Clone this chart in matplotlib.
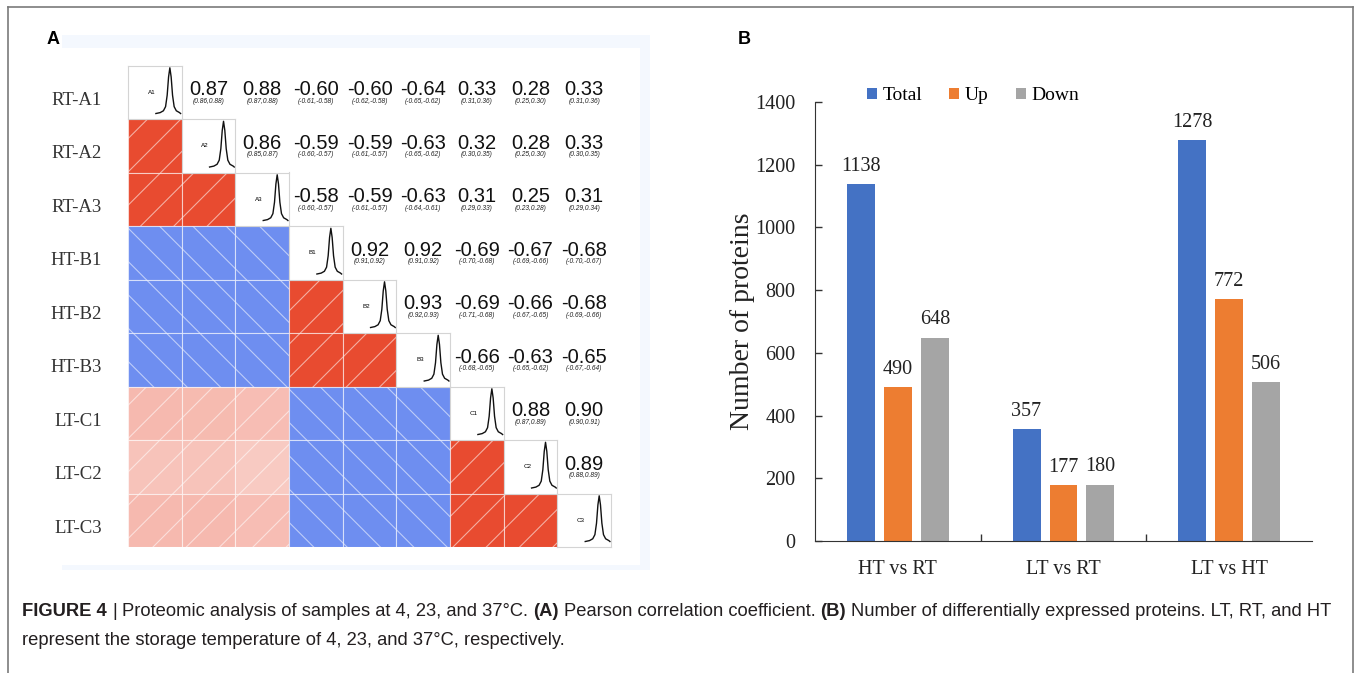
import numpy as np
import matplotlib
matplotlib.use("Agg")
import matplotlib.pyplot as plt
from matplotlib.patches import Rectangle
from matplotlib.colors import LinearSegmentedColormap, TwoSlopeNorm
from matplotlib.transforms import ScaledTranslation

# ---- data: panel A (Pearson correlation between samples) ----
samples = ["RT-A1", "RT-A2", "RT-A3", "HT-B1", "HT-B2", "HT-B3", "LT-C1", "LT-C2", "LT-C3"]
short_names = ["A1", "A2", "A3", "B1", "B2", "B3", "C1", "C2", "C3"]
# upper triangle, row i holds r for columns i+1 .. 8
r_upper = [
    [0.87, 0.88, -0.60, -0.60, -0.64, 0.33, 0.28, 0.33],
    [0.86, -0.59, -0.59, -0.63, 0.32, 0.28, 0.33],
    [-0.58, -0.59, -0.63, 0.31, 0.25, 0.31],
    [0.92, 0.92, -0.69, -0.67, -0.68],
    [0.93, -0.69, -0.66, -0.68],
    [-0.66, -0.63, -0.65],
    [0.88, 0.90],
    [0.89],
]
ci_low = [
    [0.86, 0.87, -0.61, -0.62, -0.65, 0.31, 0.25, 0.31],
    [0.85, -0.60, -0.61, -0.65, 0.30, 0.25, 0.30],
    [-0.60, -0.61, -0.64, 0.29, 0.23, 0.29],
    [0.91, 0.91, -0.70, -0.69, -0.70],
    [0.92, -0.71, -0.67, -0.69],
    [-0.68, -0.65, -0.67],
    [0.87, 0.90],
    [0.88],
]
ci_high = [
    [0.88, 0.88, -0.58, -0.58, -0.62, 0.36, 0.30, 0.36],
    [0.87, -0.57, -0.57, -0.62, 0.35, 0.30, 0.35],
    [-0.57, -0.57, -0.61, 0.33, 0.28, 0.34],
    [0.92, 0.92, -0.68, -0.66, -0.67],
    [0.93, -0.68, -0.65, -0.66],
    [-0.65, -0.62, -0.64],
    [0.89, 0.91],
    [0.89],
]
# rough shape of the density peak drawn on the diagonal
peak_x = [-1.3, -0.9, -0.6, -0.4, -0.25, -0.12, 0.0, 0.12, 0.25, 0.4, 0.6, 0.9, 1.0]
peak_h = [0.0, 0.02, 0.06, 0.15, 0.4, 0.8, 1.0, 0.8, 0.4, 0.15, 0.06, 0.02, 0.0]

# ---- data: panel B (differentially expressed proteins) ----
comparisons = ["HT vs RT", "LT vs RT", "LT vs HT"]
total = [1138, 357, 1278]
up = [490, 177, 772]
down = [648, 180, 506]

W, H = 1357, 673
fig = plt.figure(figsize=(W / 100, H / 100), dpi=100)
plt.rcParams["hatch.linewidth"] = 0.8


def fx(px):
    return px / W


def fy(py):
    return 1 - py / H


# outer frame (bottom edge is cut off in the original)
fig.add_artist(plt.Line2D([fx(8), fx(8)], [fy(7), 0], color="#7a7a7a", lw=1.2))
fig.add_artist(plt.Line2D([fx(8), fx(1353)], [fy(7), fy(7)], color="#7a7a7a", lw=1.2))
fig.add_artist(plt.Line2D([fx(1353), fx(1353)], [fy(7), 0], color="#7a7a7a", lw=1.2))

# faint panel background behind the matrix
fig.add_artist(Rectangle((fx(62), fy(570)), fx(650) - fx(62), fy(35) - fy(570),
                         facecolor="#f4f8fe", edgecolor="none", zorder=0))
fig.add_artist(Rectangle((fx(62), fy(565)), fx(640) - fx(62), fy(48) - fy(565),
                         facecolor="white", edgecolor="none", zorder=0))

fig.text(fx(47), fy(40), "A", fontsize=13, fontweight="bold", family="Liberation Sans", va="center")
fig.text(fx(738), fy(40), "B", fontsize=13, fontweight="bold", family="Liberation Sans", va="center")

# ---------------- panel A ----------------
n = len(samples)
full = np.eye(n)
for i, row in enumerate(r_upper):
    for k, v in enumerate(row):
        j = i + 1 + k
        full[i, j] = v
        full[j, i] = v

cmap = LinearSegmentedColormap.from_list("rb", ["#6e8ef0", "#ffffff", "#e84b30"])
norm = TwoSlopeNorm(vmin=-0.58, vcenter=0.0, vmax=0.85)

ax = fig.add_axes([fx(128), fy(547), (611 - 128) / W, (547 - 65.5) / H])
ax.set_xlim(0, n)
ax.set_ylim(0, n)
ax.set_facecolor("white")
for s in ax.spines.values():
    s.set_visible(False)
ax.set_xticks([])
ax.set_yticks([n - 1 - i + 0.5 for i in range(n)])
ax.set_yticklabels(samples, family="Liberation Serif", fontsize=13.5, color="#333333")
ax.tick_params(axis="y", length=0, pad=19)
shift = ScaledTranslation(0, -6 / 100, fig.dpi_scale_trans)
for lab in ax.get_yticklabels():
    lab.set_transform(lab.get_transform() + shift)

for i in range(n):
    for j in range(n):
        y0 = n - 1 - i
        if i > j:
            v = full[i, j]
            ax.add_patch(Rectangle((j, y0), 1, 1, facecolor=cmap(norm(v)),
                                   edgecolor=(1, 1, 1, 0.55), lw=0.8,
                                   hatch="/" if v > 0 else "\\"))
        elif j > i:
            k = j - i - 1
            ax.text(j + 0.5, y0 + 0.55, f"{r_upper[i][k]:.2f}", ha="center", va="center",
                    fontsize=14.5, family="Liberation Sans", color="#111111")
            ax.text(j + 0.5, y0 + 0.33, f"({ci_low[i][k]:.2f},{ci_high[i][k]:.2f})",
                    ha="center", va="center", fontsize=4.8, family="Liberation Sans",
                    style="italic", color="#222222")

for i in range(n):
    ins = ax.inset_axes([i, n - 1 - i, 1, 1], transform=ax.transData)
    ins.plot(peak_x, peak_h, color="#111111", lw=1.0)
    ins.set_xlim(-3.9, 1.1)
    ins.set_ylim(-0.12, 1.05)
    ins.set_xticks([])
    ins.set_yticks([])
    ins.set_facecolor("white")
    for s in ins.spines.values():
        s.set_color("#d4d4d4")
        s.set_linewidth(0.8)
    ins.text(0.44, 0.5, short_names[i], transform=ins.transAxes, fontsize=4.5,
             ha="center", va="center", family="Liberation Sans")

# ---------------- panel B ----------------
axb = fig.add_axes([fx(815), fy(541), (1312 - 815) / W, (541 - 102) / H])
x = np.arange(len(comparisons))
bw = 0.169
off = 0.223
series = [("Total", total, "#4472c4"), ("Up", up, "#ed7d31"), ("Down", down, "#a5a5a5")]
for k, (name, vals, col) in enumerate(series):
    bars = axb.bar(x + (k - 1) * off, vals, bw, color=col, label=name)
    axb.bar_label(bars, padding=6, fontsize=14.5, family="Liberation Serif", color="#222222")

axb.set_xlim(-0.5, 2.5)
axb.set_ylim(0, 1400)
axb.set_yticks(range(0, 1401, 200))
axb.set_xticks(x)
axb.set_xticklabels(comparisons)
axb.set_xticks([0.5, 1.5], minor=True)
axb.tick_params(axis="x", which="major", length=0, pad=14)
axb.tick_params(axis="x", which="minor", direction="in", length=5, width=1, color="#333333")
axb.tick_params(axis="y", direction="in", length=5, width=1, pad=14, color="#333333")
for lab in axb.get_xticklabels() + axb.get_yticklabels():
    lab.set_family("Liberation Serif")
    lab.set_fontsize(14.5)
    lab.set_color("#222222")
axb.spines["top"].set_visible(False)
axb.spines["right"].set_visible(False)
axb.spines["left"].set_color("#333333")
axb.spines["bottom"].set_color("#333333")
axb.set_ylabel("Number of proteins", family="Liberation Serif", fontsize=20, color="#222222", labelpad=0)
axb.legend(loc="center", bbox_to_anchor=(0.318, 1.014), ncol=3, frameon=False,
           prop={"family": "Liberation Serif", "size": 14},
           handlelength=0.5, handleheight=0.5, handletextpad=0.3, columnspacing=1.4)

# ---------------- caption ----------------
renderer = fig.canvas.get_renderer()
cap_size = 13.2


def text_width(s, bold):
    t = fig.text(0, 0, s, fontsize=cap_size, family="Liberation Sans",
                 fontweight="bold" if bold else "normal")
    w = t.get_window_extent(renderer).width
    t.remove()
    return w


space_w = text_width("x x", False) - text_width("xx", False)


def caption_line(y_px, parts):
    xp = 22
    for txt, bold in parts:
        t = fig.text(fx(xp), fy(y_px), txt, fontsize=cap_size, family="Liberation Sans",
                     fontweight="bold" if bold else "normal", va="baseline", ha="left",
                     color="#231f20")
        xp += t.get_window_extent(renderer).width + space_w


caption_line(616, [("FIGURE 4", True), ("|", False),
                   ("Proteomic analysis of samples at 4, 23, and 37°C.", False), ("(A)", True),
                   ("Pearson correlation coefficient.", False), ("(B)", True),
                   ("Number of differentially expressed proteins. LT, RT, and HT", False)])
caption_line(645, [("represent the storage temperature of 4, 23, and 37°C, respectively.", False)])

fig.savefig("out.png", dpi=100)
